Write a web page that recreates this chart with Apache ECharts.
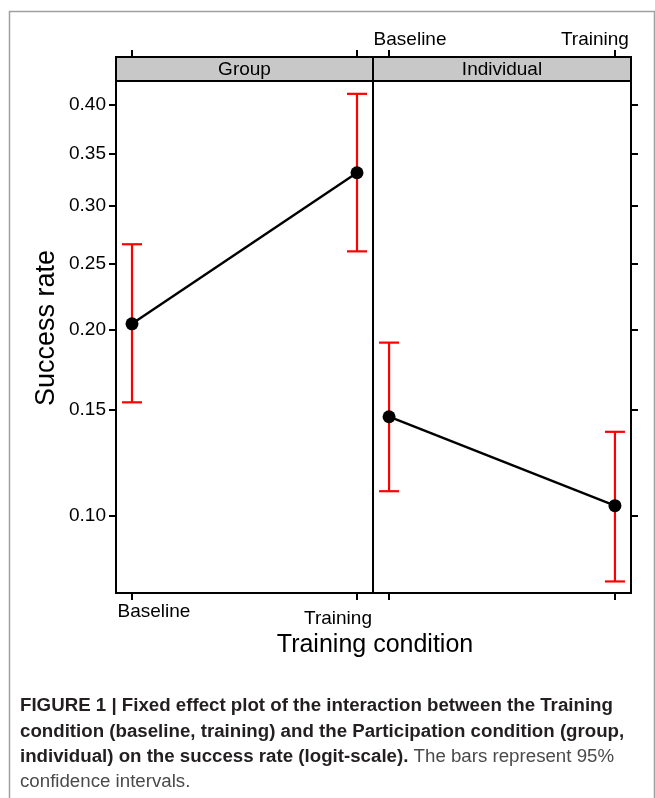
<!DOCTYPE html>
<html>
<head>
<meta charset="utf-8">
<style>
  html, body { margin: 0; padding: 0; background: #fff; }
  #chart { width: 655px; height: 798px; }
</style>
<script src="https://cdn.jsdelivr.net/npm/echarts@6/dist/echarts.min.js"></script>
</head>
<body>
<div id="chart"></div>
<script>
// Training condition levels (x axis) and participation panels
const conditions = ['Baseline', 'Training'];
const panels = ['Group', 'Individual'];

// Fitted success rates with 95% confidence limits
const groupRate = [0.204, 0.331];
const groupLower = [0.154, 0.260];
const groupUpper = [0.266, 0.411];
const individualRate = [0.146, 0.104];
const individualLower = [0.110, 0.077];
const individualUpper = [0.191, 0.138];

// Tick labels of the logit-scaled y axis
const yTicks = [0.10, 0.15, 0.20, 0.25, 0.30, 0.35, 0.40];
const yRange = [0.0735, 0.4246];

const logit = p => Math.log(p / (1 - p));
const FONT = "'Liberation Sans', Arial, Helvetica, sans-serif";

const chart = echarts.init(document.getElementById('chart'), null, { renderer: 'canvas' });

const panelData = [
  { rate: groupRate, lower: groupLower, upper: groupUpper },
  { rate: individualRate, lower: individualLower, upper: individualUpper }
];

function errorBars(params, api) {
  const x = api.value(0);
  const top = api.coord([x, api.value(2)]);
  const bot = api.coord([x, api.value(1)]);
  const hw = 10;
  const style = { stroke: '#ff0000', lineWidth: 2.2, fill: null };
  return {
    type: 'group',
    children: [
      { type: 'line', shape: { x1: top[0], y1: top[1], x2: bot[0], y2: bot[1] }, style },
      { type: 'line', shape: { x1: top[0] - hw, y1: top[1], x2: top[0] + hw, y2: top[1] }, style },
      { type: 'line', shape: { x1: bot[0] - hw, y1: bot[1], x2: bot[0] + hw, y2: bot[1] }, style }
    ]
  };
}

const xVals = conditions.map((c, i) => i);
const tickStyle = { show: true, inside: false, length: 7, lineStyle: { color: '#000', width: 2 } };
const labelText = { fontFamily: FONT, fontSize: 19, color: '#000' };

const grids = [
  { left: 116, top: 81, width: 257, height: 512, show: true, borderColor: '#000', borderWidth: 2, containLabel: false },
  { left: 373, top: 81, width: 258, height: 512, show: true, borderColor: '#000', borderWidth: 2, containLabel: false }
];

const hiddenLine = { show: false, onZero: false };
const xBase = { type: 'value', min: -0.0711, max: 1.0711, splitLine: { show: false }, axisLine: hiddenLine };

const xAxes = [
  // Group panel: labelled bottom axis
  Object.assign({}, xBase, {
    gridIndex: 0, position: 'bottom',
    axisTick: Object.assign({ customValues: xVals }, tickStyle),
    axisLabel: Object.assign({
      customValues: xVals, margin: 9,
      formatter: v => (Math.round(v) === 0 ? '{lft|' : '{rgt|') + conditions[Math.round(v)] + '}',
      rich: {
        lft: Object.assign({ padding: [0, 0, 0, 44] }, labelText),
        rgt: Object.assign({ padding: [7, 38, 0, 0] }, labelText)
      }
    }, labelText)
  }),
  // Group panel: top ticks above the strip
  Object.assign({}, xBase, {
    gridIndex: 0, position: 'top', offset: 24,
    axisTick: Object.assign({ customValues: xVals }, tickStyle),
    axisLabel: { show: false }
  }),
  // Individual panel: bottom ticks
  Object.assign({}, xBase, {
    gridIndex: 1, position: 'bottom',
    axisTick: Object.assign({ customValues: xVals }, tickStyle),
    axisLabel: { show: false }
  }),
  // Individual panel: labelled top axis above the strip
  Object.assign({}, xBase, {
    gridIndex: 1, position: 'top', offset: 24,
    axisTick: Object.assign({ customValues: xVals }, tickStyle),
    axisLabel: Object.assign({
      customValues: xVals, margin: 8,
      formatter: v => (Math.round(v) === 0 ? '{lft|' : '{rgt|') + conditions[Math.round(v)] + '}',
      rich: {
        lft: Object.assign({ padding: [0, 0, 0, 42] }, labelText),
        rgt: Object.assign({ padding: [0, 40, 0, 0] }, labelText)
      }
    }, labelText)
  })
];

const yLogit = yTicks.map(logit);
const yBase = { type: 'value', min: logit(yRange[0]), max: logit(yRange[1]), splitLine: { show: false }, axisLine: hiddenLine };

const yAxes = [
  Object.assign({}, yBase, {
    gridIndex: 0, position: 'left',
    name: 'Success rate', nameLocation: 'middle', nameGap: 56, nameRotate: 90,
    nameTextStyle: { fontFamily: FONT, fontSize: 27, color: '#000', padding: [0, 0, 0, 18] },
    axisTick: Object.assign({ customValues: yLogit }, tickStyle),
    axisLabel: Object.assign({
      customValues: yLogit, margin: 10,
      formatter: v => {
        let best = yTicks[0];
        yTicks.forEach(t => { if (Math.abs(logit(t) - v) < Math.abs(logit(best) - v)) best = t; });
        return best.toFixed(2);
      }
    }, labelText)
  }),
  Object.assign({}, yBase, {
    gridIndex: 1, position: 'right',
    axisTick: Object.assign({ customValues: yLogit }, tickStyle),
    axisLabel: { show: false }
  })
];

const series = [];
panelData.forEach((d, pi) => {
  series.push({
    type: 'custom', xAxisIndex: pi === 0 ? 0 : 2, yAxisIndex: pi, z: 2,
    renderItem: errorBars,
    data: xVals.map(i => [i, logit(d.lower[i]), logit(d.upper[i])])
  });
  series.push({
    type: 'line', xAxisIndex: pi === 0 ? 0 : 2, yAxisIndex: pi, z: 3,
    data: xVals.map(i => [i, logit(d.rate[i])]),
    symbol: 'circle', symbolSize: 13, showSymbol: true,
    itemStyle: { color: '#000' },
    lineStyle: { color: '#000', width: 2.4 }
  });
});

// Panel strips, axis title, frame and caption
const stripY = 57, stripH = 24;
const graphic = [
  { type: 'rect', left: 7, top: 9, shape: { x: 0, y: 0, width: 645, height: 820 },
    style: { fill: null, stroke: '#a0a0a0', lineWidth: 1.5 }, silent: true, z: -1 }
];
grids.forEach((g, i) => {
  graphic.push({ type: 'rect', shape: { x: g.left, y: stripY, width: g.width, height: stripH },
    style: { fill: '#c8c8c8', stroke: '#000', lineWidth: 2 } });
  graphic.push({ type: 'text', x: g.left + g.width / 2, y: stripY + stripH / 2 + 1,
    style: { text: panels[i], fontFamily: FONT, fontSize: 19, fill: '#000', align: 'center', verticalAlign: 'middle' } });
});
graphic.push({ type: 'text', x: 375, y: 645,
  style: { text: 'Training condition', fontFamily: FONT, fontSize: 25, fill: '#000', align: 'center', verticalAlign: 'middle' } });

const capBold = { fontFamily: FONT, fontSize: 18.7, fontWeight: 'bold', fill: '#231f20' };
const capReg = { fontFamily: FONT, fontSize: 18.7, fontWeight: 'normal', fill: '#4a4a4a' };
const captionLines = [
  '{b|FIGURE 1 | Fixed effect plot of the interaction between the Training}',
  '{b|condition (baseline, training) and the Participation condition (group,}',
  '{b|individual) on the success rate (logit-scale).}{r| The bars represent 95%}',
  '{r|confidence intervals.}'
];
const captionY = [706, 732, 757, 782];
captionLines.forEach((line, i) => {
  graphic.push({ type: 'text', x: 20, y: captionY[i],
    style: { text: line, align: 'left', verticalAlign: 'middle', rich: { b: capBold, r: capReg } } });
});

chart.setOption({
  animation: false,
  backgroundColor: '#fff',
  grid: grids,
  xAxis: xAxes,
  yAxis: yAxes,
  series: series,
  graphic: graphic
});
</script>
</body>
</html>
